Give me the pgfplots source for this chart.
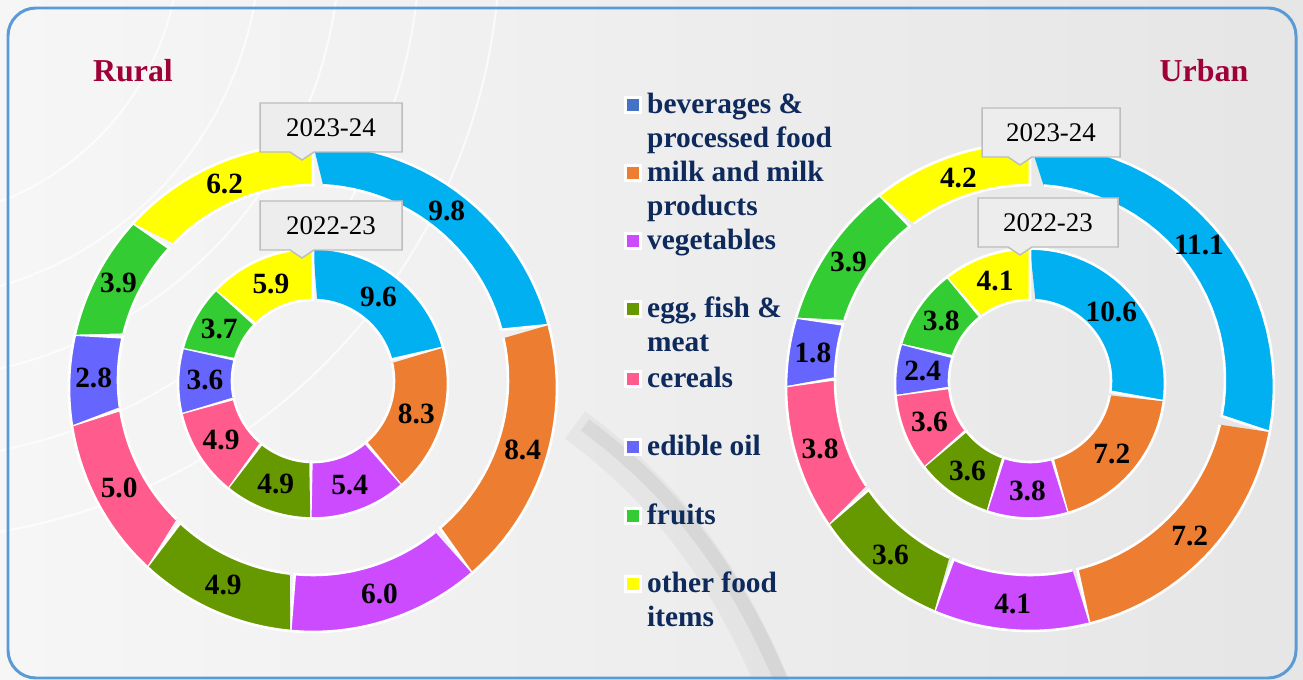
\documentclass[border=0pt]{standalone}
\usepackage{pgfplots}
\usepackage{pgfplotstable}
\pgfplotsset{compat=1.18}
\usepackage{fontspec}
\setmainfont{Liberation Serif}
\definecolor{col0}{HTML}{00B0F0}
\definecolor{col1}{HTML}{ED7D31}
\definecolor{col2}{HTML}{CC4BFF}
\definecolor{col3}{HTML}{669900}
\definecolor{col4}{HTML}{FF5C8D}
\definecolor{col5}{HTML}{6666FF}
\definecolor{col6}{HTML}{33CC33}
\definecolor{col7}{HTML}{FFFF00}
\definecolor{leg0}{HTML}{4472C4}
\definecolor{navy}{HTML}{0E2A5C}
\definecolor{titlered}{HTML}{A00038}
\definecolor{frameblue}{HTML}{5B9BD5}
\definecolor{boxfill}{HTML}{EDEDED}
\definecolor{boxline}{HTML}{BDBDBD}

% share of food items in monthly per capita consumption expenditure (%)
\pgfplotstableread{
row r22 r23 u22 u23
0 9.6 9.8 10.6 11.1
1 8.3 8.4 7.2 7.2
2 5.4 6.0 3.8 4.1
3 4.9 4.9 3.6 3.6
4 4.9 5.0 3.6 3.8
5 3.6 2.8 2.4 1.8
6 3.7 3.9 3.8 3.9
7 5.9 6.2 4.1 4.2
}\foodtable

% #1 column, #2 cx, #3 cy, #4 R, #5 r
\newcommand\prep[5]{%
  \xdef\tot{0}%
  \pgfplotstableforeachcolumnelement{#1}\of\foodtable\as\val{%
    \pgfmathsetmacro\tmp{\tot+\val}\xdef\tot{\tmp}}%
  \xdef\cum{0}%
  \pgfplotstableforeachcolumnelement{#1}\of\foodtable\as\val{%
    \pgfmathsetmacro\angA{90-360*(\cum/\tot)}%
    \pgfmathsetmacro\tmp{\cum+\val}\xdef\cum{\tmp}%
    \pgfmathsetmacro\angB{90-360*(\cum/\tot)}%
    \pgfmathsetmacro\rmid{(#4+#5)/2}%
    \pgfmathsetmacro\lx{#2+\rmid*cos((\angA+\angB)/2)}%
    \pgfmathsetmacro\ly{#3-\rmid*sin((\angA+\angB)/2)}%
    \expandafter\xdef\csname #1a\pgfplotstablerow\endcsname{\angA}%
    \expandafter\xdef\csname #1b\pgfplotstablerow\endcsname{\angB}%
    \expandafter\xdef\csname #1x\pgfplotstablerow\endcsname{\lx}%
    \expandafter\xdef\csname #1y\pgfplotstablerow\endcsname{\ly}%
    \expandafter\xdef\csname #1v\pgfplotstablerow\endcsname{\val}%
  }%
}
\prep{r23}{313}{385}{244}{195}%
\prep{r22}{313}{383}{135}{81}%
\prep{u23}{1030}{385}{244}{195}%
\prep{u22}{1030}{383}{135}{81}%

% #1 column, #2 cx, #3 cy outer edge, #4 cy inner edge, #5 R, #6 r
\newcommand\ring[6]{%
  \pgfplotsinvokeforeach{0,...,7}{%
    \addplot[fill=col##1, draw=white, line width=2.6pt, variable=\t,
      samples at={0,0.04,...,1,1.00001,1.04,1.08,...,2}]
      ({#2+((\t<=1)?#5:#6)*cos(\csname #1a##1\endcsname+(\csname #1b##1\endcsname-\csname #1a##1\endcsname)*min(\t,2-\t))},
       {((\t<=1)?#3:#4)-((\t<=1)?#5:#6)*sin(\csname #1a##1\endcsname+(\csname #1b##1\endcsname-\csname #1a##1\endcsname)*min(\t,2-\t))});
  }%
  \pgfplotsinvokeforeach{0,...,7}{%
    \node[font=\bfseries\fontsize{29.5}{31}\selectfont, text=black, inner sep=0pt]
      at (axis cs:\csname #1x##1\endcsname,\csname #1y##1\endcsname) {\csname #1v##1\endcsname};
  }%
}

% callout box: #1 left, #2 top, #3 right, #4 bottom, #5 pointer x, #6 text
\newcommand\yearbox[6]{%
  \filldraw[fill=boxfill, draw=boxline, line width=1.5pt]
    (axis cs:#1,#2) -- (axis cs:#3,#2) -- (axis cs:#3,#4) -- (axis cs:#5+12,#4)
    -- (axis cs:#5,#4+8) -- (axis cs:#5-12,#4) -- (axis cs:#1,#4) -- cycle;
  \node[font=\fontsize{27}{29}\selectfont, inner sep=0pt] at (axis cs:{(#1+#3)/2},{(#2+#4)/2}) {#6};
}

% legend entry: #1 colour, #2 baseline y, #3 first line, #4 second line
\newcommand\legentry[4]{%
  \fill[white] (axis cs:624,#2-18) rectangle (axis cs:642,#2);
  \fill[#1] (axis cs:627,#2-15) rectangle (axis cs:639,#2-3);
  \node[anchor=base west, font=\bfseries\fontsize{29.5}{31}\selectfont, text=navy, inner sep=0pt] at (axis cs:647,#2) {#3};
  \node[anchor=base west, font=\bfseries\fontsize{29.5}{31}\selectfont, text=navy, inner sep=0pt] at (axis cs:647,#2+34) {#4};
}

\begin{document}
\begin{tikzpicture}
\begin{axis}[
  width=1303bp, height=680bp, scale only axis,
  xmin=0, xmax=1303, ymin=0, ymax=680, y dir=reverse,
  hide axis, clip=false,
]
% background
\shade[left color=gray!7, right color=gray!20] (axis cs:0,0) rectangle (axis cs:1303,680);
\begin{scope}
\clip (axis cs:0,0) rectangle (axis cs:620,680);
\draw[white, opacity=0.7, line width=2pt] (axis cs:180,-60) arc[start angle=0, end angle=-90, radius=280bp];
\draw[white, opacity=0.7, line width=2pt] (axis cs:260,-60) arc[start angle=0, end angle=-90, radius=360bp];
\draw[white, opacity=0.7, line width=2pt] (axis cs:340,-60) arc[start angle=0, end angle=-90, radius=440bp];
\draw[white, opacity=0.7, line width=2pt] (axis cs:420,-60) arc[start angle=0, end angle=-90, radius=520bp];
\draw[white, opacity=0.7, line width=2pt] (axis cs:500,-60) arc[start angle=0, end angle=-90, radius=600bp];
\end{scope}
\begin{scope}
\clip (axis cs:0,0) rectangle (axis cs:1303,680);
\draw[gray, opacity=0.08, line width=34pt] (axis cs:575,425) .. controls (axis cs:670,495) and (axis cs:730,580) .. (axis cs:775,690);
\draw[gray, opacity=0.12, line width=14pt] (axis cs:585,425) .. controls (axis cs:680,495) and (axis cs:740,580) .. (axis cs:785,690);
\end{scope}
\draw[frameblue, line width=3pt, rounded corners=28pt] (axis cs:8,8) rectangle (axis cs:1296,678);

% titles
\node[font=\bfseries\fontsize{32}{34}\selectfont, text=titlered, anchor=base] at (axis cs:133,82) {Rural};
\node[font=\bfseries\fontsize{32}{34}\selectfont, text=titlered, anchor=base] at (axis cs:1204,82) {Urban};

% donuts
\ring{r23}{313}{388}{380}{244}{195}
\ring{r22}{313}{383.5}{381}{135}{81}
\ring{u23}{1030}{387}{380}{244}{195}
\ring{u22}{1030}{383.5}{381}{135}{81}

% year boxes
\yearbox{260}{103}{402}{152}{302}{2023-24}
\yearbox{260}{201}{402}{250}{302}{2022-23}
\yearbox{982}{108}{1120}{157}{1020}{2023-24}
\yearbox{978}{198}{1118}{247}{1020}{2022-23}

% legend
\legentry{leg0}{114}{beverages \&}{processed food}
\legentry{col1}{182}{milk and milk}{products}
\legentry{col2}{250}{vegetables}{}
\legentry{col3}{318}{egg, fish \&}{meat}
\legentry{col4}{388}{cereals}{}
\legentry{col5}{456}{edible oil}{}
\legentry{col6}{525}{fruits}{}
\legentry{col7}{593}{other food}{items}
\end{axis}
\end{tikzpicture}
\end{document}
